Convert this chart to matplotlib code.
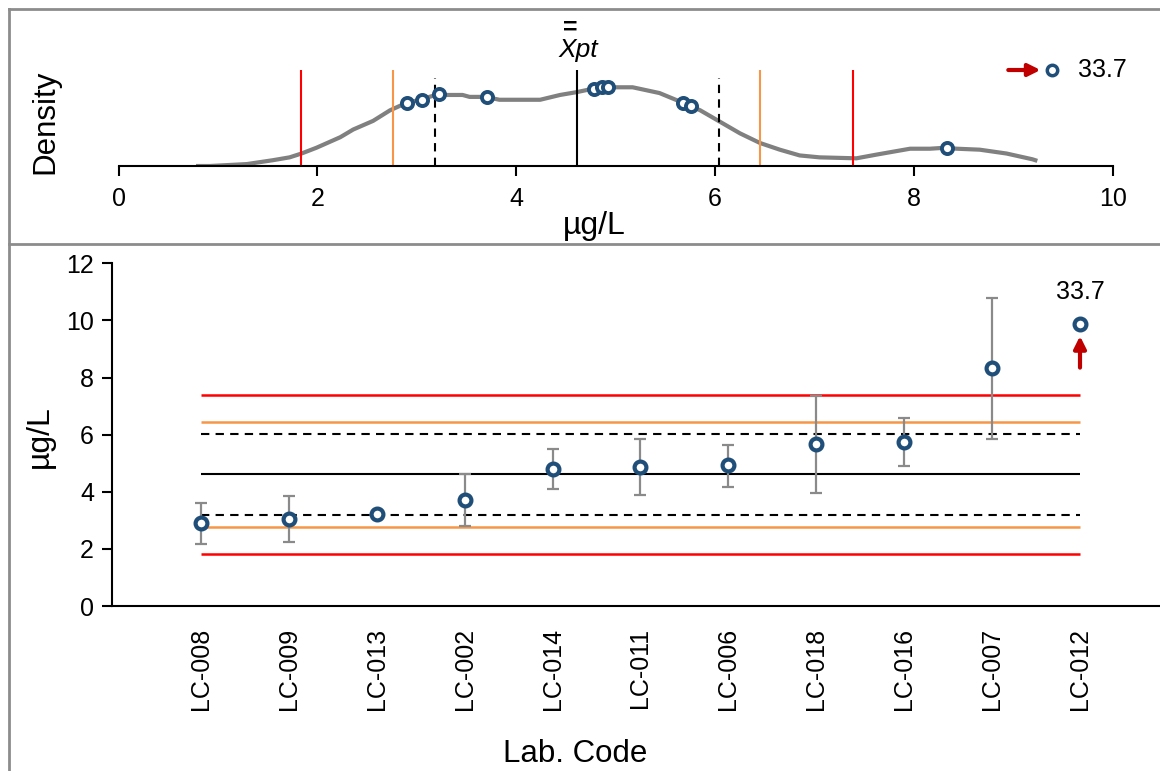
import matplotlib.pyplot as plt
import numpy as np
from matplotlib.lines import Line2D

plt.rcParams['font.family'] = ['Liberation Sans', 'DejaVu Sans']

# lab results (sorted), uncertainty ranges
labs = ['LC-008', 'LC-009', 'LC-013', 'LC-002', 'LC-014', 'LC-011',
        'LC-006', 'LC-018', 'LC-016', 'LC-007', 'LC-012']
results = [2.90, 3.05, 3.22, 3.71, 4.78, 4.86, 4.92, 5.68, 5.76, 8.33, 33.7]
err_low = [2.18, 2.25, np.nan, 2.80, 4.08, 3.87, 4.15, 3.94, 4.89, 5.85, np.nan]
err_high = [3.59, 3.86, np.nan, 4.62, 5.50, 5.84, 5.64, 7.34, 6.59, 10.80, np.nan]

# assigned value and limits
xpt = 4.61
lim_dash = 1.43
lim_orange = 1.845
lim_red = 2.78

# kernel density curve
kde_x = [0.80, 0.92, 1.29, 1.55, 1.72, 1.84, 1.99, 2.23, 2.36, 2.56, 2.73,
         2.88, 3.03, 3.19, 3.46, 3.53, 3.69, 3.83, 4.24, 4.44, 4.61, 4.84,
         5.17, 5.44, 5.65, 5.85, 6.05, 6.25, 6.45, 6.65, 6.85, 7.05, 7.42,
         7.63, 7.96, 8.16, 8.31, 8.43, 8.66, 8.93, 9.19, 9.22]
kde_y = [0.00, 0.00, 0.02, 0.06, 0.09, 0.13, 0.19, 0.30, 0.38, 0.47, 0.58,
         0.65, 0.69, 0.74, 0.74, 0.72, 0.72, 0.69, 0.69, 0.74, 0.77, 0.82,
         0.82, 0.76, 0.67, 0.58, 0.46, 0.34, 0.24, 0.17, 0.11, 0.09, 0.08,
         0.12, 0.18, 0.18, 0.19, 0.18, 0.17, 0.13, 0.07, 0.06]
dens_at_results = [0.66, 0.69, 0.75, 0.72, 0.80, 0.82, 0.82, 0.66, 0.62, 0.19]

out_label = '33.7'
top_cap_x = 9.39     # where the off-scale result is drawn in the density plot
bot_cap_y = 9.89     # where it is drawn in the lab plot

blue = '#1F4E79'
red = '#FF0000'
orange = '#F79646'
gray = '#808080'
darkred = '#C00000'

fig = plt.figure(figsize=(11.6, 7.71), dpi=100)

# outer frames
for xs, ys in [([0.0078, 1], [0.9883, 0.9883]), ([0.0078, 0.0078], [0, 0.9883]),
               ([0.0078, 1], [0.6835, 0.6835])]:
    fig.add_artist(Line2D(xs, ys, color='#8C8C8C', lw=2))

# ---- density panel ----
ax1 = fig.add_axes([0.1022, 0.7847, 0.8572, 0.1245])
ax1.plot(kde_x, kde_y, color=gray, lw=3, zorder=2)
ax1.vlines([xpt - lim_red, xpt + lim_red], 0, 1.0, color=red, lw=1.5)
ax1.vlines([xpt - lim_orange, xpt + lim_orange], 0, 1.0, color=orange, lw=1.5)
ax1.vlines([xpt - lim_dash, xpt + lim_dash], 0, 0.92, color='black', lw=1.5,
           linestyles=(0, (4, 3)))
ax1.vlines([xpt], 0, 1.0, color='black', lw=1.5)
ax1.plot(results[:10], dens_at_results, 'o', ms=8, mfc='white', mec=blue,
         mew=2.8, zorder=5, clip_on=False)
ax1.plot([top_cap_x], [1.0], 'o', ms=7.5, mfc='white', mec=blue, mew=2.5,
         zorder=5, clip_on=False)
ax1.annotate('', xy=(top_cap_x - 0.09, 1.0), xytext=(top_cap_x - 0.47, 1.0),
             arrowprops=dict(arrowstyle='-|>', color=darkred, lw=3,
                             mutation_scale=18), annotation_clip=False)
ax1.text(top_cap_x + 0.26, 1.0, out_label, fontsize=18, va='center', ha='left')
# X double-bar pt label
ax1.text(4.42, 1.21, 'Xpt', fontsize=19, style='italic', ha='left', va='center')
ax1.text(4.47, 1.44, '=', fontsize=18, fontweight='bold', ha='left', va='center')
ax1.set_xlim(0, 10)
ax1.set_ylim(0, 1.0)
ax1.set_xticks([0, 2, 4, 6, 8, 10])
ax1.set_yticks([])
for s in ['left', 'right', 'top']:
    ax1.spines[s].set_visible(False)
ax1.spines['bottom'].set_linewidth(1.5)
ax1.tick_params(axis='x', labelsize=18, length=7, width=1.5, pad=8)
ax1.patch.set_alpha(0)
fig.text(594 / 1160, 1 - 226 / 771, 'µg/L', fontsize=23, ha='center', va='center')
fig.text(45 / 1160, 1 - 122 / 771, 'Density', fontsize=22.5, rotation=90,
         ha='center', va='center')

# ---- lab results panel ----
ax2 = fig.add_axes([0.0966, 0.214, 0.9034, 0.4445])
xpos = np.arange(len(labs))
shown = results[:-1] + [bot_cap_y]
lo = np.array(shown) - np.array(err_low)
hi = np.array(err_high) - np.array(shown)
ax2.hlines([xpt - lim_red, xpt + lim_red], 0, 10, color=red, lw=1.8)
ax2.hlines([xpt - lim_orange, xpt + lim_orange], 0, 10, color=orange, lw=1.8)
ax2.hlines([xpt - lim_dash, xpt + lim_dash], 0, 10, color='black', lw=1.5,
           linestyles=(0, (4, 3)))
ax2.hlines([xpt], 0, 10, color='black', lw=1.5)
ax2.errorbar(xpos, shown, yerr=[lo, hi], fmt='none', ecolor='#8A8A8A',
             elinewidth=1.6, capsize=4.5, capthick=1.6, zorder=3)
ax2.plot(xpos, shown, 'o', ms=8.5, mfc='white', mec=blue, mew=3, zorder=5)
ax2.annotate('', xy=(10, 9.55), xytext=(10, 8.25),
             arrowprops=dict(arrowstyle='-|>', color=darkred, lw=3,
                             mutation_scale=18))
ax2.text(10, 11.0, out_label, fontsize=18, ha='center', va='center')
ax2.set_xlim(-1.01, 10.91)
ax2.set_ylim(0, 12)
ax2.set_yticks(range(0, 13, 2))
ax2.set_xticks(xpos)
ax2.set_xticklabels(labs, rotation=90)
for s in ['right', 'top']:
    ax2.spines[s].set_visible(False)
ax2.spines['left'].set_linewidth(1.5)
ax2.spines['bottom'].set_linewidth(1.5)
ax2.tick_params(axis='y', labelsize=18, length=7, width=1.5, pad=6)
ax2.tick_params(axis='x', labelsize=18, length=0, pad=16)
fig.text(40 / 1160, 1 - 437 / 771, 'µg/L', fontsize=23, rotation=90,
         ha='center', va='center')
fig.text(575 / 1160, 1 - 754 / 771, 'Lab. Code', fontsize=22.5,
         ha='center', va='center')

fig.savefig('out.png', dpi=100)
